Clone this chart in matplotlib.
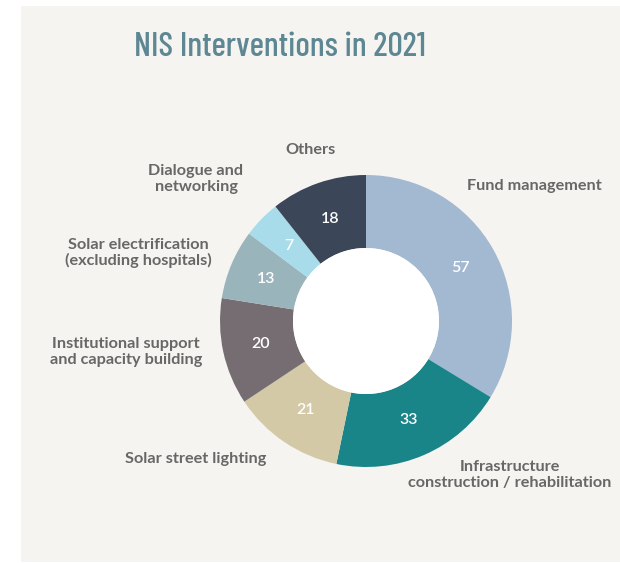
import matplotlib
matplotlib.use("Agg")
import matplotlib.pyplot as plt
import numpy as np
from matplotlib.patches import Rectangle, Circle
from matplotlib import font_manager

categories = ["Fund management", "Infrastructure\nconstruction / rehabilitation",
              "Solar street lighting", "Institutional support\nand capacity building",
              "Solar electrification\n(excluding hospitals)", "Dialogue and\nnetworking", "Others"]
values = [57, 33, 21, 20, 13, 7, 18]
colors = ["#a3b9d1", "#1a8589", "#d3c9a7", "#766d73", "#9ab4bc", "#a8dcea", "#3b4759"]
title = "NIS Interventions in 2021"

W, H = 620, 563
fig = plt.figure(figsize=(W / 100, H / 100), dpi=100, facecolor="white")
ax = fig.add_axes([0, 0, 1, 1])

def py(y):
    return H - y

avail = {f.name for f in font_manager.fontManager.ttflist}
title_font = next((f for f in ["Barlow Condensed", "Roboto Condensed", "PT Sans Narrow"] if f in avail), "DejaVu Sans")

cx, cy, R = 366, py(321), 146
wedges, _ = ax.pie(values, colors=colors, startangle=90, counterclock=False,
                   center=(cx, cy), radius=R,
                   wedgeprops=dict(width=R * 0.5, linewidth=0), frame=True)
ax.set_xlim(0, W)
ax.set_ylim(0, H)
ax.set_aspect("equal")
ax.axis("off")

# background panel
ax.add_patch(Rectangle((21, py(562)), W - 21, 556, facecolor="#f5f4f1", edgecolor="none", zorder=0))
ax.add_patch(Circle((cx, cy), R * 0.5, facecolor="white", edgecolor="none", zorder=3))

for w, v in zip(wedges, values):
    ang = np.deg2rad((w.theta1 + w.theta2) / 2)
    rr = R * 0.74
    ax.text(cx + rr * np.cos(ang), cy + rr * np.sin(ang), str(v), color="white",
            ha="center", va="center", fontsize=11.5, family="Lato", fontweight="semibold", zorder=4)

t = ax.text(280, py(47), title, ha="center", va="center", fontsize=29,
            color="#5c8793", family=title_font, fontweight="medium", zorder=4)
fig.canvas.draw()
bb = t.get_window_extent()
t.set_fontsize(29 * min(1.0, 291 / bb.width))

lab_color = "#676767"
label_pos = [
    (467, 186, "left"),
    (510, 475, "center"),
    (196, 459, "center"),
    (126, 352, "center"),
    (138, 253, "center"),
    (196, 179, "center"),
    (311, 150, "center"),
]
for (x, y, ha), txt in zip(label_pos, categories):
    ax.text(x, py(y), txt, ha=ha, va="center", fontsize=11.7, color=lab_color,
            family="Lato", fontweight="bold", linespacing=1.15, zorder=4)

fig.savefig("out.png", dpi=100, facecolor="white")
